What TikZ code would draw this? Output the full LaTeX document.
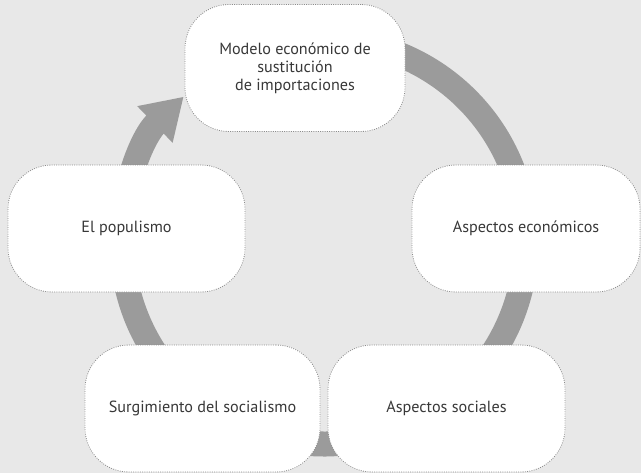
\documentclass[tikz,border=0pt]{standalone}
\usepackage{fontspec}
\setmainfont{PT Sans}
\usetikzlibrary{positioning, arrows.meta}

\definecolor{fondo}{HTML}{E8E8E8}
\definecolor{anillo}{HTML}{9B9B9B}
\definecolor{borde}{HTML}{8C8C8C}
\definecolor{texto}{HTML}{383838}

\tikzset{
  caja/.style={rectangle, rounded corners=1.1cm, draw=borde, densely dotted,
    line width=0.6pt, fill=white, minimum height=3.175cm, align=center,
    text=texto, font=\fontsize{11.5}{12.8}\selectfont},
  ciclo/.style={draw=anillo, line width=0.625cm, -{Triangle[width=1.2cm,length=1cm]}}
}

\begin{document}
\begin{tikzpicture}

\fill[fondo] (0, 0) rectangle (16.025, 11.825);

% el anillo con la flecha
\draw[ciclo] (8.1, 5.775) ++(95:5.05) arc[start angle=95, end angle=-226, radius=5.05];

\node[caja, minimum width=5.5cm] (modelo) at (7.375, 10.125) {Modelo económico de\\ sustitución\\ de importaciones};
\node[caja, minimum width=5.925cm] (populismo) at (3.1625, 6.1125) {El populismo};
\node[caja, minimum width=5.7cm] (economicos) at (13.15, 6.1125) {Aspectos económicos};
\node[caja, minimum width=5.875cm] (socialismo) at (5.0625, 1.6125) {Surgimiento del socialismo};
\node[caja, minimum width=5.925cm] (sociales) at (11.1625, 1.6125) {Aspectos sociales};

\end{tikzpicture}
\end{document}
